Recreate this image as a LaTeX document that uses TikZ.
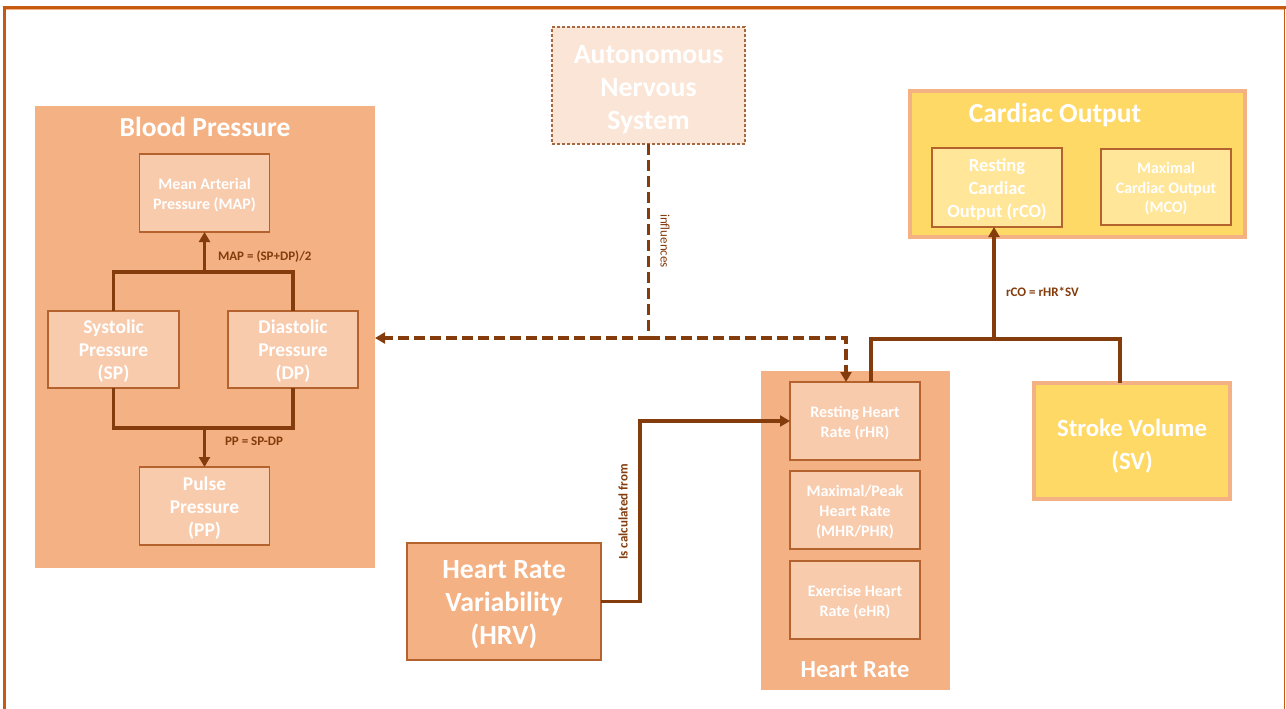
\documentclass[tikz,border=0pt]{standalone}
\usepackage{fontspec}
\setmainfont{Carlito}
\usetikzlibrary{arrows.meta}
\definecolor{frameorange}{HTML}{C55A11}
\definecolor{groupfill}{HTML}{F4B183}
\definecolor{itemfill}{HTML}{F8CBAD}
\definecolor{itemline}{HTML}{B4632E}
\definecolor{wire}{HTML}{843C0C}
\definecolor{ansfill}{HTML}{FBE5D6}
\definecolor{ansline}{HTML}{A8683F}
\definecolor{gold}{HTML}{FFD966}
\definecolor{palegold}{HTML}{FFE699}
\newcommand{\fs}[2]{\fontsize{#1}{#2}\selectfont}
\begin{document}
\begin{tikzpicture}[x=1pt,y=-1pt,
  every node/.style={inner sep=0pt, outer sep=0pt, text=white, align=center},
  group/.style={rectangle, fill=groupfill, draw=none},
  item/.style={rectangle, fill=itemfill, draw=itemline, line width=1.2pt,
    minimum width=130, minimum height=78},
  goldgroup/.style={rectangle, fill=gold, draw=groupfill, line width=3.5pt},
  goldsub/.style={rectangle, fill=palegold, draw=itemline, line width=1.2pt,
    minimum width=130, minimum height=78},
  title/.style={font=\bfseries\fs{27.5}{33}},
  big/.style={font=\bfseries\fs{27.8}{33}},
  small/.style={font=\bfseries\fs{16}{20}},
  mid/.style={font=\bfseries\fs{19.5}{23}},
  wire/.style={draw=wire, line width=3.2pt},
  dashwire/.style={draw=wire, line width=3.5pt, dash pattern=on 11pt off 5pt},
  arr/.style={-{Triangle[length=10pt,width=11pt]}},
  lbl/.style={text=wire, font=\bfseries\fs{13}{15}},
]
% page and frame
\fill[white] (0,0) rectangle (1286,709);
\useasboundingbox (0,0) rectangle (1286,709);
\draw[groupfill, line width=1pt] (6,10) -- (1284,10);
\draw[frameorange, line width=3pt] (4.5,709) -- (4.5,7.5) -- (1286,7.5);
\draw[frameorange, line width=1pt] (1284,9) -- (1284,709);

% Blood Pressure group
\node[group, minimum width=340, minimum height=462] (bp) at (205,337) {};
\node[title] (bptitle) at (205,127) {Blood Pressure};
\node[item] (map) at (204.5,193) {};
\node[small] (maptext) at (204.5,195) {Mean Arterial\\Pressure (MAP)};
\node[item, minimum width=131, minimum height=77] (sp) at (113.5,349.5) {};
\node[mid] (sptext) at (113.5,351.5) {Systolic\\Pressure\\(SP)};
\node[item, minimum width=130, minimum height=77] (dp) at (293,349.5) {};
\node[mid] (dptext) at (293,351.5) {Diastolic\\Pressure\\(DP)};
\node[item] (pp) at (204.5,506) {};
\node[mid] (pptext) at (204.5,508) {Pulse\\Pressure\\(PP)};

\coordinate (mapjoin) at (204.5,272);
\coordinate (ppjoin) at (204.5,428);
\draw[wire] (sp.north) |- (mapjoin) -| (dp.north);
\draw[wire, arr] (mapjoin) -- (map.south);
\node[lbl, anchor=west] (maplbl) at (218,257) {MAP = (SP+DP)/2};
\draw[wire] (sp.south) |- (ppjoin) -| (dp.south);
\draw[wire, arr] (ppjoin) -- (pp.north);
\node[lbl, anchor=west] (pplbl) at (225,441) {PP = SP-DP};

% Autonomous Nervous System
\node[rectangle, fill=ansfill, draw=ansline, line width=1.2pt, dash pattern=on 3pt off 2pt,
  minimum width=193, minimum height=117] (ans) at (648.5,85.5) {};
\node[big] (anstext) at (648.5,89.5) {Autonomous\\Nervous\\System};

% Cardiac Output group
\node[goldgroup, minimum width=335, minimum height=146] (co) at (1077.5,164) {};
\node[title] (cotitle) at (1055,115) {Cardiac Output};
\node[goldsub, minimum width=130, minimum height=79] (rco) at (997,187.5) {};
\node[mid, font=\bfseries\fs{18.5}{23}] (rcotext) at (997,189.5) {Resting\\Cardiac\\Output (rCO)};
\node[goldsub, minimum width=130, minimum height=76] (mco) at (1166,187) {};
\node[small, font=\bfseries\fs{16}{19.5}] (mcotext) at (1166,189) {Maximal\\Cardiac Output\\(MCO)};

% Heart Rate group
\node[group, minimum width=189, minimum height=319] (hr) at (855.5,530.5) {};
\node[title, font=\bfseries\fs{24.5}{29}] (hrtitle) at (855,670) {Heart Rate};
\node[item] (rhr) at (855,421) {};
\node[small] (rhrtext) at (855,423) {Resting Heart\\Rate (rHR)};
\node[item] (mhr) at (855,510) {};
\node[small] (mhrtext) at (855,512) {Maximal/Peak\\Heart Rate\\(MHR/PHR)};
\node[item] (ehr) at (855,600) {};
\node[small] (ehrtext) at (855,602) {Exercise Heart\\Rate (eHR)};

% Stroke Volume
\node[goldgroup, minimum width=196, minimum height=116] (sv) at (1132,441) {};
\node[font=\bfseries\fs{24.7}{33}] (svtext) at (1132,446) {Stroke Volume\\(SV)};

% Heart Rate Variability
\node[rectangle, fill=groupfill, draw=itemline, line width=1.2pt,
  minimum width=194, minimum height=117] (hrv) at (504,601.5) {};
\node[big] (hrvtext) at (504,605) {Heart Rate\\Variability\\(HRV)};

% influences (dashed)
\coordinate (ansjoin) at (648.5,338);
\draw[dashwire] (ans.south) -- (ansjoin);
\draw[dashwire, arr] (ansjoin) -- (bp.east |- ansjoin);
\draw[dashwire, arr] (ansjoin) -| ([xshift=-9pt]rhr.north);
\node[lbl, font=\fs{13}{15}, rotate=-90] (inflbl) at (665,241) {influences};

% cardiac output formula
\coordinate (cojoin) at (994,339);
\draw[wire] ([xshift=16pt]rhr.north) |- (cojoin) -| ([xshift=-12pt]sv.north);
\draw[wire, arr] (cojoin) -- (rco.south -| cojoin);
\node[lbl, anchor=west] (colbl) at (1006,292) {rCO = rHR*SV};

% HRV to resting heart rate
\coordinate (hrvbend) at (640,421);
\draw[wire, arr] (hrv.east) -| (hrvbend) -- (rhr.west);
\node[lbl, rotate=90] (hrvlbl) at (623,512) {Is calculated from};
\end{tikzpicture}
\end{document}
